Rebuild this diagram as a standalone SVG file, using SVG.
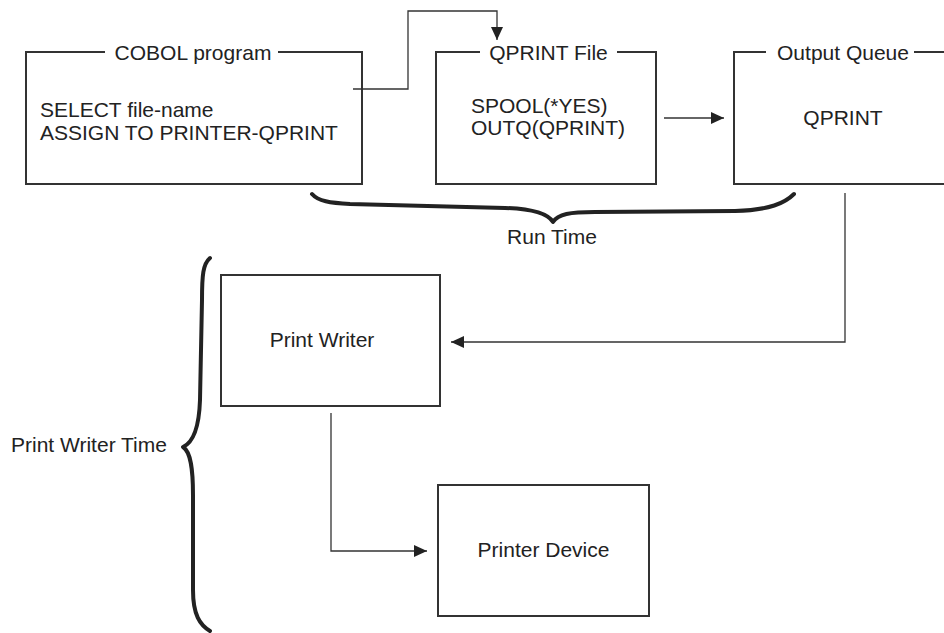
<svg xmlns="http://www.w3.org/2000/svg" width="944" height="633" viewBox="0 0 944 633">
<defs>
<style>
text{font-family:"Liberation Sans",Arial,sans-serif;font-size:21px;fill:#222}
.box{fill:none;stroke:#333;stroke-width:2}
.conn{fill:none;stroke:#333;stroke-width:1.3}
.brace{fill:none;stroke:#222;stroke-width:4;stroke-linecap:round;stroke-linejoin:round}
</style>
<marker id="arr" markerUnits="userSpaceOnUse" markerWidth="14" markerHeight="12" refX="13" refY="6" orient="auto">
<path d="M0,0 L13,6 L0,12 Z" fill="#222"/>
</marker>
</defs>
<rect width="944" height="633" fill="#fff"/>

<g id="cobol">
<path class="box" d="M105,52 H26 V184 H362 V52 H278"/>
<text x="193" y="60" text-anchor="middle">COBOL program</text>
<text x="40" y="117">SELECT file-name</text>
<text x="40" y="140">ASSIGN TO PRINTER-QPRINT</text>
</g>

<g id="qprint-file">
<path class="box" d="M480,52 H436 V184 H656 V52 H617"/>
<text x="548.5" y="60" text-anchor="middle">QPRINT File</text>
<text x="471" y="113">SPOOL(*YES)</text>
<text x="471" y="135">OUTQ(QPRINT)</text>
</g>

<g id="output-queue">
<path class="box" d="M766,52 H734 V184 H960 M960,52 H914"/>
<text x="843" y="60" text-anchor="middle">Output Queue</text>
<text x="843" y="125" text-anchor="middle">QPRINT</text>
</g>

<g id="print-writer">
<rect class="box" x="221" y="275" width="219" height="131"/>
<text x="322" y="347" text-anchor="middle">Print Writer</text>
</g>

<g id="printer-device">
<rect class="box" x="438" y="485" width="211" height="131"/>
<text x="543.5" y="557" text-anchor="middle">Printer Device</text>
</g>

<g id="run-time">
<path class="brace" d="M312,194 C318,201 330,203 350,204 L505,208 C535,209 548,214 553,222 C558,214 570,212 595,212 L735,211 C770,210 785,203 794,194"/>
<text x="552" y="244" text-anchor="middle">Run Time</text>
</g>

<g id="print-writer-time">
<path class="brace" d="M210,258 C203,264 202,275 202,300 L200,400 C199,430 192,443 183,447 C191,452 193,470 193,495 L193,590 C193,615 200,625 210,631"/>
<text x="11" y="452">Print Writer Time</text>
</g>

<g id="connectors">
<path class="conn" d="M353,89 H408 V11 H497 V40" marker-end="url(#arr)"/>
<path class="conn" d="M664,118 H724" marker-end="url(#arr)"/>
<path class="conn" d="M845,193 V342 H451" marker-end="url(#arr)"/>
<path class="conn" d="M331,413 V551 H427" marker-end="url(#arr)"/>
</g>
</svg>
